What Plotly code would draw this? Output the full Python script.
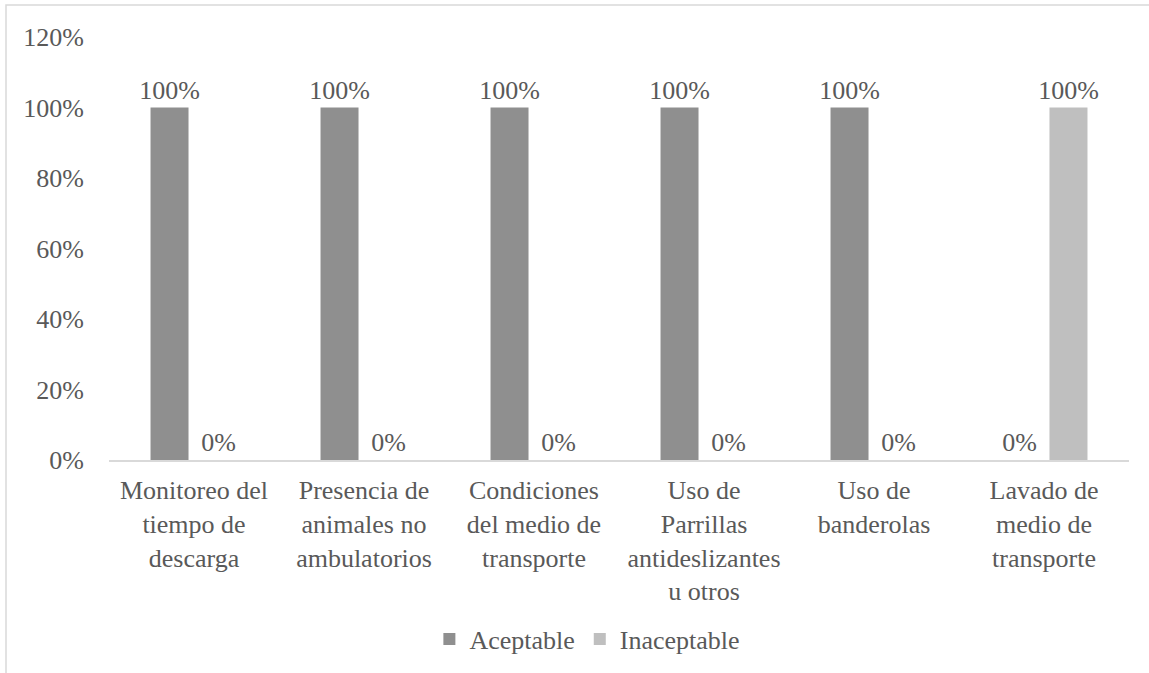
import plotly.graph_objects as go

categories = [
    "Monitoreo del<br>tiempo de<br>descarga",
    "Presencia de<br>animales no<br>ambulatorios",
    "Condiciones<br>del medio de<br>transporte",
    "Uso de<br>Parrillas<br>antideslizantes<br>u otros",
    "Uso de<br>banderolas",
    "Lavado de<br>medio de<br>transporte",
]
aceptable = [1.0, 1.0, 1.0, 1.0, 1.0, 0.0]
inaceptable = [0.0, 0.0, 0.0, 0.0, 0.0, 1.0]
y_ticks = [0, 0.2, 0.4, 0.6, 0.8, 1.0, 1.2]
y_tick_labels = ["0%", "20%", "40%", "60%", "80%", "100%", "120%"]

FONT = "Times New Roman, Liberation Serif, DejaVu Serif, serif"
TXT = "#595959"
FS = 26

fig = go.Figure()
fig.add_trace(go.Bar(
    name="Aceptable", x=categories, y=aceptable,
    marker=dict(color="#8f8f8f", line=dict(width=0)),
    text=[f"{v:.0%}" for v in aceptable], textposition="outside", constraintext="none",
    textfont=dict(family=FONT, size=FS, color=TXT), cliponaxis=False,
))
fig.add_trace(go.Bar(
    name="Inaceptable", x=categories, y=inaceptable,
    marker=dict(color="#bfbfbf", line=dict(width=0)),
    text=[f"{v:.0%}" for v in inaceptable], textposition="outside", constraintext="none",
    textfont=dict(family=FONT, size=FS, color=TXT), cliponaxis=False,
))

fig.update_layout(
    width=1149, height=673,
    margin=dict(l=109, r=20, t=37, b=212),
    paper_bgcolor="white", plot_bgcolor="white",
    font=dict(family=FONT, size=FS, color=TXT),
    barmode="group", bargap=0.424, bargroupgap=0.224,
    showlegend=True,
    legend=dict(orientation="h", x=0.469, xanchor="center", y=-0.42, yanchor="middle",
                font=dict(family=FONT, size=FS, color=TXT), traceorder="normal"),
    shapes=[dict(type="rect", xref="paper", yref="paper",
                 x0=(6 - 109) / 1020, x1=(1175 - 109) / 1020,
                 y0=(461 - 690) / 424, y1=(461 - 5) / 424,
                 line=dict(color="#d9d9d9", width=1.5), fillcolor="rgba(0,0,0,0)", layer="below")],
)
fig.update_xaxes(showline=True, linecolor="#d9d9d9", linewidth=1.5, showgrid=False,
                 ticks="", ticklabelstandoff=6, tickfont=dict(family=FONT, size=FS, color=TXT))
fig.update_yaxes(range=[0, 1.2], tickvals=y_ticks, ticktext=y_tick_labels, showgrid=False,
                 zeroline=False, showline=False, ticks="", ticklabelstandoff=24,
                 tickfont=dict(family=FONT, size=FS, color=TXT))

fig.write_html("out.html")
